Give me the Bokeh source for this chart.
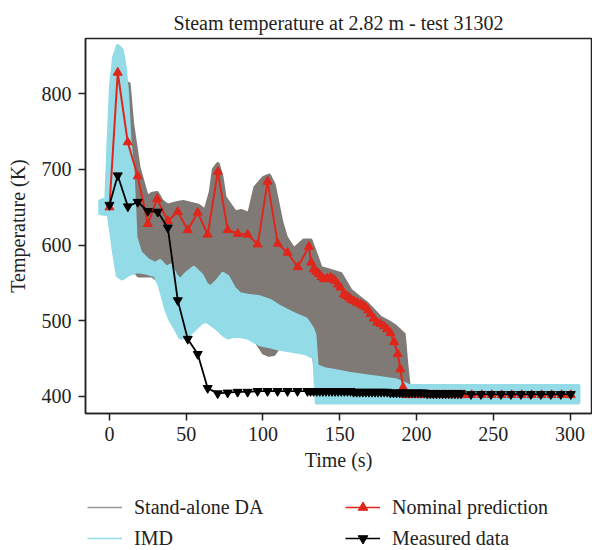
from bokeh.plotting import figure
from bokeh.layouts import column
from bokeh.models import Legend, LegendItem, Range1d, FixedTicker
from bokeh.embed import file_html
from bokeh.resources import INLINE

# ---------------- data ----------------
# Stand-alone DA envelope (grey band)
t_da = [8, 10, 12.5, 14.8, 19, 24.5, 28, 31, 34, 38, 43, 48, 54, 58, 62.5, 66, 68, 70.6, 73, 75,
        82, 86, 91, 95, 100.5, 104, 107, 109, 112, 115, 120, 126.6, 131, 134, 137.5, 144, 150.5,
        157, 163, 168, 176.5, 182, 186, 191.7, 193.5, 195]
da_hi = [760, 800, 813, 760, 702, 663, 668, 669, 658, 652, 655, 657, 654, 652, 645, 670, 700, 707, 690, 663,
         643, 645, 641, 676, 689, 692, 680, 660, 630, 610, 594, 606, 606, 590, 570, 566, 562,
         540, 530, 522, 504, 498, 493, 482, 440, 412]
da_lo = [700, 650, 600, 570, 560, 560, 560, 555, 550, 540, 530, 525, 520, 520, 520, 520, 520, 520, 520, 520,
         515, 510, 500, 475, 458, 455, 456, 462, 478, 495, 505, 505, 500, 440, 432, 430, 428,
         425, 423, 420, 418, 416, 415, 413, 412, 412]

# IMD envelope (light blue band)
t_imd = [-6, -2, -0.5, 1, 3, 5.4, 8, 10, 11.5, 13, 15, 17, 20, 25, 30, 33, 37, 40, 43, 46, 50, 55,
         60, 63, 66, 70, 74, 77, 81, 85, 90, 98, 105, 111, 120, 128, 132, 133.5, 135, 140, 146,
         156, 166, 177, 187, 195, 250, 305.5]
imd_hi = [658, 662, 740, 810, 848, 863, 858, 835, 800, 740, 700, 610, 590, 580, 575, 579, 570, 573, 560, 553, 562, 570,
          560, 548, 544, 552, 562, 558, 543, 535, 533, 531, 526, 518, 509, 502, 490, 482, 440, 436, 434,
          430, 427, 424, 421, 414, 414, 414]
imd_lo = [642, 641, 641, 620, 590, 560, 556, 558, 560, 562, 563, 565, 565, 563, 560, 545, 515, 500, 490, 478, 478, 488,
          498, 500, 496, 490, 482, 478, 480, 480, 478, 469, 466, 463, 460, 457, 453, 452, 392, 392, 392,
          392, 392, 392, 392, 392, 392, 392]

# Nominal prediction (red, triangles)
t_nom = [0, 5.4, 11.9, 18.4, 25, 31, 38, 44.5, 51, 57.5, 64, 70.6, 77, 83.6, 90, 96.6, 103, 109.6,
         116, 122.7, 129.9, 131.4, 133, 134.8, 136.4, 138, 139.6, 141.8, 144, 145.5, 147, 148.8,
         150.5, 152.6, 154.2, 155.9, 157.5, 159.2, 161.3, 163.5, 165.2, 166.8, 168.4, 170, 172.2,
         174.4, 176.5, 178.7, 180.8, 183, 185.4, 187.8, 189.5, 191.3,
         193, 195, 197, 199, 201, 203, 205, 207, 209, 211, 213, 215, 217, 219, 221, 223, 225, 227,
         229, 231, 236, 242.5, 249, 255.5, 262, 268.5, 275, 281.5, 288, 294.5, 300.5]
T_nom = [650, 828, 736, 691, 628, 661, 632, 644, 620, 643, 614, 697, 620, 615, 614, 601, 684, 602,
         590, 571, 598, 577, 568, 565, 562, 558, 555, 556, 557, 555, 553, 548,
         544, 535, 533, 531, 528, 526, 524, 522, 520, 518, 514, 509, 503,
         498, 496, 493, 489, 484, 472, 456, 436, 412,
         402, 402, 402, 402, 402, 402, 402, 402, 402, 402, 402, 402, 402, 402, 402, 402, 402, 402,
         402, 402, 402, 402, 402, 402, 402, 402, 402, 402, 402, 402, 402]

# Measured data (black, inverted triangles)
t_meas = [0, 5.4, 12, 18.4, 25, 31.5, 38, 44.5, 51, 57.5, 64, 70.5, 77, 83.5, 90, 96.5, 103, 109.5,
          116, 122.5, 129, 131, 133, 135, 137, 139, 141, 143, 145, 147, 149, 151, 153, 155, 157,
          159, 161, 163, 165, 167, 169, 171, 173, 175, 177, 179, 181, 183, 185, 187, 189, 191,
          193, 195, 197, 199, 201, 203, 205, 207, 209, 211, 213, 215, 217, 219, 221, 223, 225,
          227, 229, 235.5, 242, 248.5, 255, 261.5, 268, 274.5, 281, 287.5, 294, 300.5]
T_meas = [653, 692, 651, 657, 645, 644, 623, 527, 476, 456, 411, 404, 405, 406, 406, 407, 407, 407,
          407, 407, 407, 407, 407, 407, 407, 407, 407, 407, 407, 407, 407, 407, 407, 407, 407,
          406, 406, 406, 406, 406, 406, 406, 406, 406, 406, 406, 406, 405, 405, 405, 405, 405,
          405, 405, 405, 405, 405, 405, 405, 404, 404, 404, 404, 404, 404, 404, 404, 404, 404,
          404, 404, 403, 403, 403, 403, 403, 403, 403, 403, 403, 403, 403]

x_ticks = [0, 50, 100, 150, 200, 250, 300]
y_ticks = [400, 500, 600, 700, 800]
series_names = ["Stand-alone DA", "IMD", "Nominal prediction", "Measured data"]

TITLE = "Steam temperature at 2.82 m - test 31302"
FONT = "Liberation Serif"
GREY = "#807a77"
BLUE = "#93dbe7"
RED = "#e0261b"
INK = "#222222"

# ---------------- main figure ----------------
p = figure(width=592, height=490, output_backend="svg", toolbar_location=None,
           x_range=Range1d(-15.6, 314), y_range=Range1d(377.5, 873),
           min_border_left=85, min_border_right=1, min_border_top=38, min_border_bottom=77,
           title=TITLE)
p.title.align = "center"
p.title.text_font = FONT
p.title.text_font_size = "20px"
p.title.text_font_style = "normal"
p.title.text_color = INK

p.xgrid.visible = False
p.ygrid.visible = False
p.outline_line_color = INK
p.outline_line_width = 1.5

for ax in (p.xaxis[0], p.yaxis[0]):
    ax.axis_line_color = INK
    ax.axis_line_width = 1.5
    ax.major_tick_line_color = INK
    ax.major_tick_line_width = 1.5
    ax.major_tick_out = 7
    ax.major_tick_in = 0
    ax.minor_tick_line_color = None
    ax.major_label_text_font = FONT
    ax.major_label_text_font_size = "20px"
    ax.major_label_text_color = INK
    ax.axis_label_text_font = FONT
    ax.axis_label_text_font_size = "20px"
    ax.axis_label_text_font_style = "normal"
    ax.axis_label_text_color = INK

p.xaxis[0].ticker = FixedTicker(ticks=x_ticks)
p.yaxis[0].ticker = FixedTicker(ticks=y_ticks)
p.xaxis[0].axis_label = "Time (s)"
p.yaxis[0].axis_label = "Temperature (K)"
p.xaxis[0].major_label_standoff = 6
p.xaxis[0].axis_label_standoff = 5
p.yaxis[0].major_label_standoff = 7
p.yaxis[0].axis_label_standoff = 10

# bands
p.varea(x=t_da, y1=da_lo, y2=da_hi, fill_color=GREY)
p.patch(x=t_da + t_da[::-1], y=da_hi + da_lo[::-1], fill_color=GREY,
        line_color=GREY, line_width=4, line_join="round")
p.varea(x=t_imd, y1=imd_lo, y2=imd_hi, fill_color=BLUE)
p.patch(x=t_imd + t_imd[::-1], y=imd_hi + imd_lo[::-1], fill_color=BLUE,
        line_color=BLUE, line_width=4, line_join="round")

# lines
p.line(t_nom, T_nom, line_color=RED, line_width=2)
p.scatter(t_nom, T_nom, marker="triangle", size=9, fill_color=RED, line_color=RED)
p.line(t_meas, T_meas, line_color="black", line_width=1.8)
p.scatter(t_meas, T_meas, marker="inverted_triangle", size=9, fill_color="black", line_color="black")

# ---------------- legend strip (frame aligned with the main plot: x from 85 to 591) ----------------
lf = figure(width=592, height=60, output_backend="svg", toolbar_location=None,
            x_range=Range1d(0, 592), y_range=Range1d(0, 60),
            min_border=0, x_axis_type=None, y_axis_type=None)
lf.xgrid.visible = False
lf.ygrid.visible = False
lf.outline_line_color = None

off_x = [-50, -40]
off_y = [-50, -50]
g_da = lf.line(off_x, off_y, line_color="#9a9896", line_width=1.5)
g_imd = lf.line(off_x, off_y, line_color=BLUE, line_width=1.5)
g_nl = lf.line(off_x, off_y, line_color=RED, line_width=1.5)
g_np = lf.scatter(off_x, off_y, marker="triangle", size=10, fill_color=RED, line_color=RED)
g_ml = lf.line(off_x, off_y, line_color="black", line_width=1.5)
g_mp = lf.scatter(off_x, off_y, marker="inverted_triangle", size=10, fill_color="black", line_color="black")


def make_legend(items, x):
    return Legend(items=items, location=(x, 0), orientation="vertical",
                  glyph_width=35, glyph_height=24, label_height=24, spacing=7,
                  label_standoff=12, padding=0, margin=0,
                  label_text_font=FONT, label_text_font_size="20px", label_text_color=INK,
                  background_fill_alpha=0, border_line_color=None)


lf.add_layout(make_legend([LegendItem(label=series_names[0], renderers=[g_da]),
                           LegendItem(label=series_names[1], renderers=[g_imd])], 2), "center")
lf.add_layout(make_legend([LegendItem(label=series_names[2], renderers=[g_nl, g_np]),
                           LegendItem(label=series_names[3], renderers=[g_ml, g_mp])], 260), "center")

open("out.html", "w").write(file_html(column(p, lf, spacing=0), INLINE))
